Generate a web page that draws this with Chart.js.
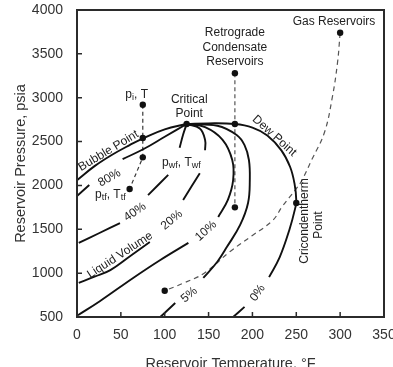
<!DOCTYPE html>
<html>
<head>
<meta charset="utf-8">
<script src="https://cdn.jsdelivr.net/npm/chart.js@4.4.1/dist/chart.umd.min.js"></script>
<style>
  html, body { margin: 0; padding: 0; background: #fff; overflow: hidden; }
  #wrap { position: relative; width: 393px; height: 375px; }
</style>
</head>
<body>
<div id="wrap"><canvas id="myChart"></canvas></div>
<script>
// axis ticks
const xTicks = [0, 50, 100, 150, 200, 250, 300, 350];
const yTicks = [500, 1000, 1500, 2000, 2500, 3000, 3500, 4000];

// curves as [temperature °F, pressure psia]; null = gap left for a label
const bubblePoint = [[0, 2060], [20, 2220], [40, 2350], [60, 2460], [76, 2540], [100, 2640], [125, 2700]];
const dewPoint = [[125, 2700], [150, 2708], [180, 2700], [200, 2660], [217, 2570], [233, 2400], [243, 2210],
  [248, 2020], [250, 1830], [249, 1750], [242, 1490], [231, 1180], [219, 955], null, [191, 615], [178, 500]];
const liquid80 = [[0, 1880], [14, 2005], null, [52, 2300], [76, 2415], [100, 2555], [125, 2700]];
const liquid40 = [[2, 1345], [25, 1455], [49, 1570], null, [81, 1890], [104, 2120], null, [117, 2430], [121, 2580], [125, 2700]];
const liquid20 = [[2, 890], [20, 960], [38, 1035], [60, 1190], [83, 1355], null, [121, 1835], [140, 2140], null,
  [146, 2400], [146, 2520], [140, 2650], [125, 2700]];
const liquid10 = [[1, 520], [26, 680], [64, 945], [95, 1150], [127, 1345], null, [161, 1640], [172, 1835], [178, 2060],
  [177, 2290], [166, 2520], [146, 2665], [125, 2700]];
const liquid5 = [[95, 500], [112, 660], null, [144, 945], [160, 1130], [171, 1300], [186, 1550], [195, 1800], [197, 2060],
  [196, 2290], [191, 2460], [182, 2575], [160, 2680], [125, 2700]];

// reservoir depletion paths (dashed)
const oilPath = [[75, 2920], [75, 2540], [75, 2320], [60, 1960]];
const retroPath = [[180, 3280], [180, 2700], [180, 1750]];
const gasPath = [[300, 3740], [297, 3400], [291, 3000], [282, 2600], [268, 2300], [256, 2050], [249, 1950], [234, 1760],
  [223, 1600], [200, 1430], [175, 1250], [145, 1000], [120, 880], [100, 800]];

// marked states
const dots = [[75, 2920], [75, 2540], [75, 2320], [60, 1960], [125, 2700], [180, 3280], [180, 2700], [180, 1750],
  [300, 3740], [250, 1800], [100, 800]];

// text on the plot: parts are [text, subscript?], placed at [T, p]
const notes = [
  { parts: [['Gas Reservoirs']], at: [293, 3863] },
  { parts: [['Retrograde']], at: [180, 3738] },
  { parts: [['Condensate']], at: [180, 3570] },
  { parts: [['Reservoirs']], at: [180, 3407] },
  { parts: [['p'], ['i', 1], [', T']], at: [68, 3031] },
  { parts: [['Critical']], at: [128, 2974] },
  { parts: [['Point']], at: [128, 2814] },
  { parts: [['Bubble Point']], at: [36, 2395], rot: -31 },
  { parts: [['80%']], at: [37, 2085], rot: -30 },
  { parts: [['p'], ['wf', 1], [', T'], ['wf', 1]], at: [119, 2256] },
  { parts: [['p'], ['tf', 1], [', T'], ['tf', 1]], at: [38, 1891] },
  { parts: [['40%']], at: [66, 1697], rot: -35 },
  { parts: [['Liquid Volume']], at: [49, 1205], rot: -33 },
  { parts: [['20%']], at: [108, 1606], rot: -40 },
  { parts: [['10%']], at: [147, 1480], rot: -42 },
  { parts: [['5%']], at: [128, 751], rot: -40 },
  { parts: [['0%']], at: [206, 774], rot: -55 },
  { parts: [['Dew Point']], at: [225, 2565], rot: 42 },
  { parts: [['Cricondentherm']], at: [260, 1594], rot: -90 },
  { parts: [['Point']], at: [275, 1549], rot: -90 }
];

const FONT = '"Liberation Sans", Arial, sans-serif';

function toXY(pts) {
  return pts.map(p => ({ x: p[0], y: p[1] }));
}

function pieces(pts) {
  const out = [];
  let cur = [];
  pts.forEach(p => {
    if (p === null) { out.push(cur); cur = []; }
    else cur.push(p);
  });
  out.push(cur);
  return out;
}

function curve(pts, style) {
  return pieces(pts).map(seg => Object.assign({
    data: toXY(seg),
    showLine: true,
    pointRadius: 0,
    tension: 0.4
  }, style));
}

const solid = { borderColor: '#111', borderWidth: 1.9 };
const dashed = { borderColor: '#3a3a3a', borderWidth: 1.2, borderDash: [4, 3] };

const datasets = [
  { data: toXY(dots), showLine: false, pointRadius: 3.2, backgroundColor: '#111', borderWidth: 0 },
  ...curve(bubblePoint, solid),
  ...curve(dewPoint, solid),
  ...curve(liquid80, solid),
  ...curve(liquid40, solid),
  ...curve(liquid20, solid),
  ...curve(liquid10, solid),
  ...curve(liquid5, solid),
  ...curve(oilPath, Object.assign({}, dashed, { tension: 0 })),
  ...curve(retroPath, Object.assign({}, dashed, { tension: 0, borderColor: '#555' })),
  ...curve(gasPath, Object.assign({}, dashed, { borderColor: '#555', borderDash: [5, 4] }))
];

function drawNote(ctx, note, xs, ys) {
  const big = 12, small = 9;
  let w = 0;
  note.parts.forEach(p => {
    ctx.font = (p[1] ? small : big) + 'px ' + FONT;
    w += ctx.measureText(p[0]).width;
  });
  ctx.save();
  ctx.translate(xs.getPixelForValue(note.at[0]), ys.getPixelForValue(note.at[1]));
  ctx.rotate((note.rot || 0) * Math.PI / 180);
  ctx.textBaseline = 'middle';
  ctx.textAlign = 'left';
  let cx = -w / 2;
  note.parts.forEach(p => {
    ctx.font = (p[1] ? small : big) + 'px ' + FONT;
    ctx.fillText(p[0], cx, p[1] ? 3 : 0);
    cx += ctx.measureText(p[0]).width;
  });
  ctx.restore();
}

const frameAndNotes = {
  id: 'frameAndNotes',
  afterDatasetsDraw(chart) {
    const { ctx, chartArea: a, scales: { x, y } } = chart;
    ctx.save();
    ctx.strokeStyle = '#2b2b2b';
    ctx.lineWidth = 2;
    ctx.strokeRect(a.left, a.top, a.right - a.left, a.bottom - a.top);
    // tick marks point inward
    ctx.lineWidth = 1.5;
    ctx.beginPath();
    xTicks.slice(1, -1).forEach(v => {
      const px = x.getPixelForValue(v);
      ctx.moveTo(px, a.bottom);
      ctx.lineTo(px, a.bottom - 5);
    });
    yTicks.slice(1, -1).forEach(v => {
      const py = y.getPixelForValue(v);
      ctx.moveTo(a.left, py);
      ctx.lineTo(a.left + 5, py);
    });
    ctx.stroke();
    ctx.fillStyle = '#222';
    notes.forEach(n => drawNote(ctx, n, x, y));
    ctx.restore();
  }
};

const config = {
  type: 'scatter',
  data: { datasets: datasets },
  options: {
    responsive: true,
    maintainAspectRatio: false,
    animation: false,
    devicePixelRatio: 1,
    layout: { padding: { top: 10, right: 9, left: 0, bottom: 0 } },
    plugins: {
      legend: { display: false },
      tooltip: { enabled: false }
    },
    scales: {
      x: {
        type: 'linear',
        min: xTicks[0],
        max: xTicks[xTicks.length - 1],
        grid: { display: false },
        border: { display: false },
        ticks: { stepSize: 50, padding: 2, color: '#333', font: { family: FONT, size: 14 }, callback: v => String(v) },
        title: {
          display: true,
          text: 'Reservoir Temperature, °F',
          color: '#333',
          font: { family: FONT, size: 14.5 },
          padding: { top: 4, bottom: 2 }
        },
        afterFit(s) { s.height = 58; s.paddingLeft = 0; s.paddingRight = 0; }
      },
      y: {
        type: 'linear',
        min: yTicks[0],
        max: yTicks[yTicks.length - 1],
        grid: { display: false },
        border: { display: false },
        ticks: { stepSize: 500, padding: 6, color: '#333', font: { family: FONT, size: 14 }, callback: v => String(v) },
        title: {
          display: true,
          text: 'Reservoir Pressure, psia',
          color: '#333',
          font: { family: FONT, size: 14.5 },
          padding: { top: 12, bottom: 4 }
        },
        afterFit(s) { s.width = 77; s.paddingTop = 0; s.paddingBottom = 0; }
      }
    }
  },
  plugins: [frameAndNotes]
};

new Chart(document.getElementById('myChart'), config);
</script>
</body>
</html>
